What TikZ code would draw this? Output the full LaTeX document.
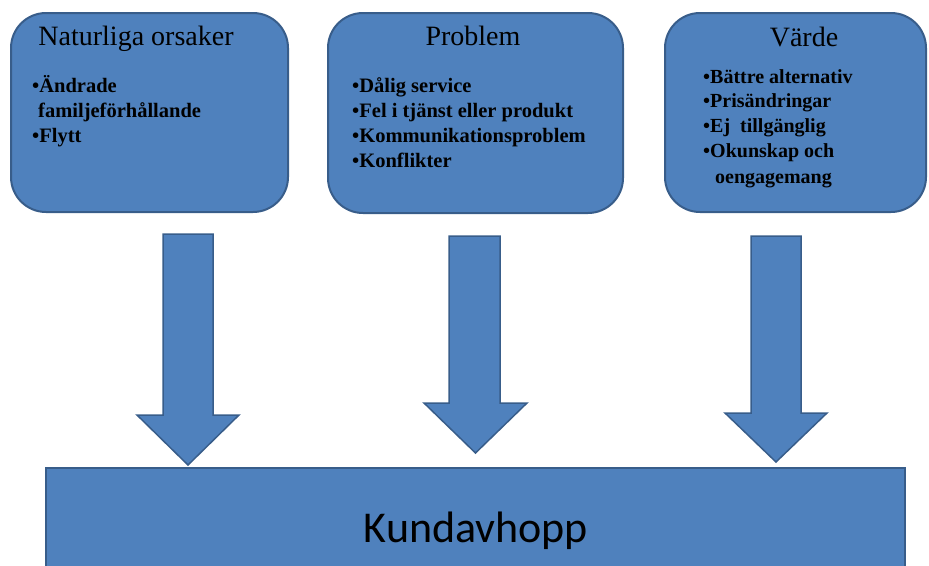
\documentclass[tikz,border=0pt]{standalone}
\usepackage{fontspec}
\setmainfont{Liberation Serif}
\newfontfamily\carlito{Carlito}
\definecolor{boxfill}{HTML}{4F81BD}
\definecolor{boxline}{HTML}{385D8A}
\begin{document}
\begin{tikzpicture}[x=1pt,y=-1pt,
  roundbox/.style={draw=boxline, fill=boxfill, line width=2pt, rounded corners=35pt, inner sep=0pt},
  blockarrow/.style={draw=boxline, fill=boxfill, line width=1.5pt, line join=miter},
  title/.style={anchor=base, inner sep=0pt, font=\fontsize{28}{30}\selectfont},
  item/.style={anchor=base west, inner sep=0pt, font=\fontsize{20.5}{25}\selectfont\bfseries},
  itemc/.style={anchor=base west, inner sep=0pt, font=\fontsize{20}{24}\selectfont\bfseries}]
\useasboundingbox (0,0) rectangle (929,565);

% top boxes
\node[roundbox, minimum width=277pt, minimum height=199pt] (b1) at (149.5,112.5) {};
\node[roundbox, minimum width=295pt, minimum height=200pt] (b2) at (475.5,113) {};
\node[roundbox, minimum width=261pt, minimum height=199pt] (b3) at (795.5,112.5) {};

% box 1 texts
\node[title] (t1) at (136,45) {Naturliga orsaker};
\node[item] (i11) at (32,92) {•Ändrade};
\node[item] (i12) at (38,117) {familjeförhållande};
\node[item] (i13) at (32,142) {•Flytt};

% box 2 texts
\node[title] (t2) at (473,45) {Problem};
\node[item] (i21) at (352,92) {•Dålig service};
\node[item] (i22) at (352,117.5) {•Fel i tjänst eller produkt};
\node[item] (i23) at (352,142.5) {•Kommunikationsproblem};
\node[item] (i24) at (352,167) {•Konflikter};

% box 3 texts
\node[title] (t3) at (804,46) {Värde};
\node[itemc] (i31) at (703,83) {•Bättre alternativ};
\node[itemc] (i32) at (703,107.5) {•Prisändringar};
\node[itemc] (i33) at (703,132) {•Ej\ \ tillgänglig};
\node[itemc] (i34) at (703,157) {•Okunskap och};
\node[itemc] (i35) at (715,183) {oengagemang};

% bottom box
\node[draw=boxline, fill=boxfill, line width=2pt, minimum width=859pt, minimum height=102pt, inner sep=0pt] (kb) at (475.5,519) {};
\node[anchor=base, inner sep=0pt, font=\carlito\fontsize{44}{48}\selectfont] (kt) at (476,542) {Kundavhopp};

% block arrows
\draw[blockarrow] (163,234) -- (213,234) -- (213,415) -- (239,415) -- (188,465) -- (137,415) -- (163,415) -- cycle;
\draw[blockarrow] (449,236) -- (500,236) -- (500,403) -- (527,403) -- (475.5,453) -- (424,403) -- (449,403) -- cycle;
\draw[blockarrow] (751,236) -- (801,236) -- (801,413) -- (827,413) -- (776,462) -- (725,413) -- (751,413) -- cycle;
\end{tikzpicture}
\end{document}
